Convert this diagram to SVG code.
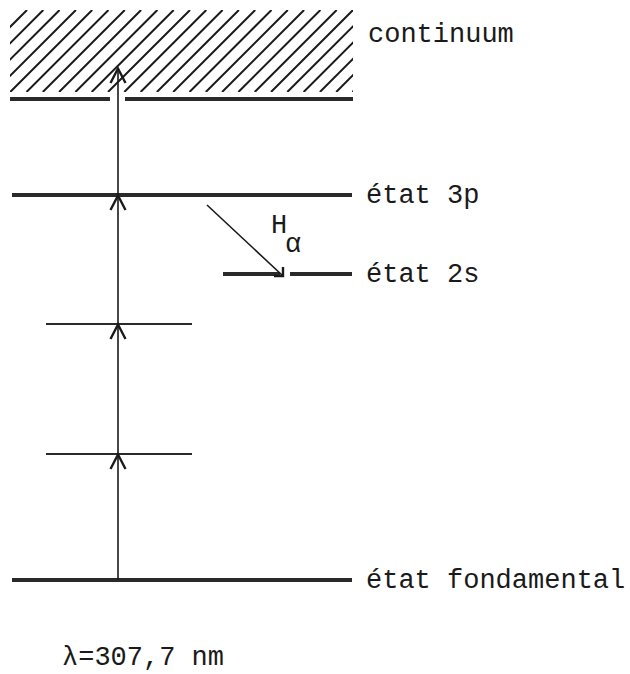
<svg xmlns="http://www.w3.org/2000/svg" width="630" height="674" viewBox="0 0 630 674">
<style>
.lvl{stroke:#2a2a2a;stroke-width:4;fill:none}
.sub{stroke:#2a2a2a;stroke-width:2;fill:none}
.hatch{stroke:#1a1a1a;stroke-width:2;fill:none}
.arr{stroke:#1a1a1a;stroke-width:1.6;fill:none}
.head{stroke:#1a1a1a;stroke-width:2.4;fill:none;stroke-linejoin:miter}
.lbl{font-family:"Liberation Mono","DejaVu Sans Mono",monospace;font-size:27px;fill:#1a1a1a}
</style>
<defs>
<clipPath id="hclip"><rect x="10" y="10" width="343" height="82"/></clipPath>
</defs>
<rect width="630" height="674" fill="#ffffff"/>
<g id="continuum">
<g clip-path="url(#hclip)" class="hatch">
<path d="M-55,92L27,10M-38.7,92L43.3,10M-22.4,92L59.6,10M-6.1,92L75.9,10M10.2,92L92.2,10M26.5,92L108.5,10M42.8,92L124.8,10M59.1,92L141.1,10M75.4,92L157.4,10M91.7,92L173.7,10M108,92L190,10M124.3,92L206.3,10M140.6,92L222.6,10M156.9,92L238.9,10M173.2,92L255.2,10M189.5,92L271.5,10M205.8,92L287.8,10M222.1,92L304.1,10M238.4,92L320.4,10M254.7,92L336.7,10M271,92L353,10M287.3,92L369.3,10M303.6,92L385.6,10M319.9,92L401.9,10M336.2,92L418.2,10M352.5,92L434.5,10"/>
</g>
<path class="lvl" d="M10,99H110M125,99H353"/>
<text class="lbl" x="368" y="42">continuum</text>
</g>
<g id="etat3p">
<path class="lvl" d="M12,195H352"/>
<text class="lbl" x="366" y="203">état 3p</text>
</g>
<g id="etat2s">
<path class="lvl" d="M223,274H280M290,274H352"/>
<text class="lbl" x="366" y="282">état 2s</text>
</g>
<g id="niveau1">
<path class="sub" d="M46,324H192"/>
</g>
<g id="niveau2">
<path class="sub" d="M46,454H192"/>
</g>
<g id="fondamental">
<path class="lvl" d="M12,580H352"/>
<text class="lbl" x="366" y="588">état fondamental</text>
</g>
<g id="connectors">
<path class="arr" d="M118,580V68"/>
<path class="head" d="M110.5,83L118,68.5L125.5,83"/>
<path class="head" d="M110.5,210L118,195.5L125.5,210"/>
<path class="head" d="M110.5,339L118,324.5L125.5,339"/>
<path class="head" d="M110.5,469L118,454.5L125.5,469"/>
<path class="arr" d="M207,205L283,276"/>
<path class="head" d="M274,276H283V267"/>
<text class="lbl" x="271" y="233" font-size="26">H</text>
<text class="lbl" x="285" y="252" font-size="26">α</text>
</g>
<text class="lbl" x="62" y="665" font-size="26">λ=307,7 nm</text>
</svg>
